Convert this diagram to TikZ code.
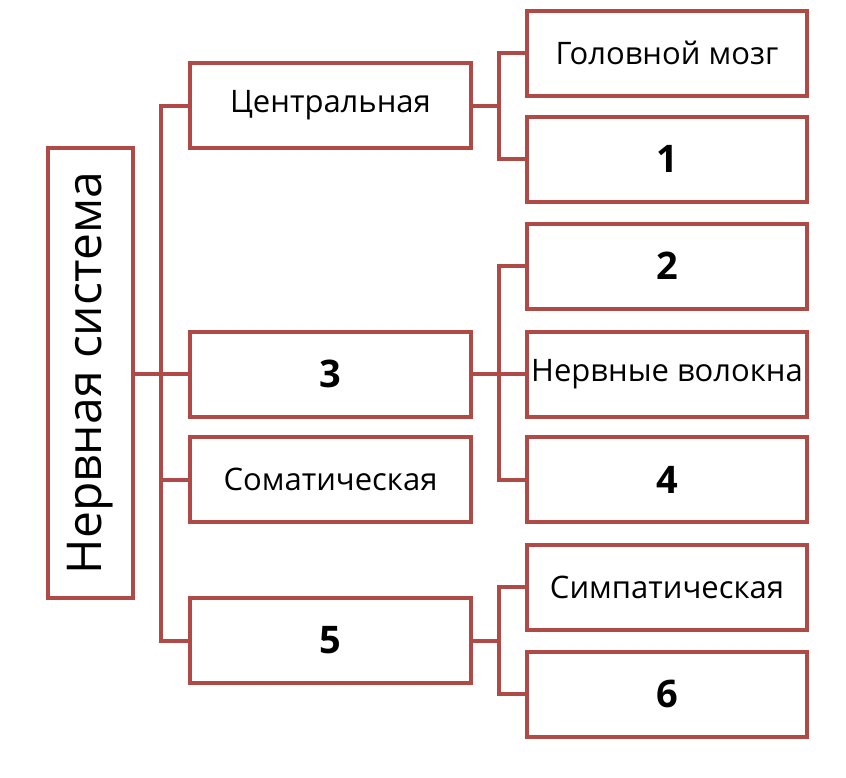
\documentclass[tikz,border=0pt]{standalone}
\usepackage{fontspec}
\setmainfont{Open Sans}
\definecolor{frame}{HTML}{B04A46}
\begin{document}
\begin{tikzpicture}[x=1pt,y=-1pt,
  box/.style={draw=frame,line width=4pt,fill=white,inner sep=0pt,outer sep=0pt,
    minimum width=#1,minimum height=85pt,anchor=center},
  box/.default=280pt,
  mbox/.style={box=281pt},
  txt/.style={font=\fontsize{31}{36}\selectfont},
  num/.style={font=\fontsize{38}{44}\selectfont\bfseries},
  link/.style={draw=frame,line width=4pt,line cap=rect}]
\useasboundingbox (0,0) rectangle (846,777);
% left
\node[draw=frame,line width=4pt,inner sep=0pt,outer sep=0pt,minimum width=450pt,minimum height=85pt,
  rotate=90,font=\fontsize{48}{54}\selectfont] (ns) at (90.5,373) {Нервная система};
% middle
\node[mbox,txt] (c) at (330.5,105.5) {Центральная};
\node[mbox,num] (n3) at (330.5,374) {3};
\node[mbox,txt] (s) at (330.5,479.5) {Соматическая};
\node[mbox,num] (n5) at (330.5,640.5) {5};
% right
\node[box,txt] (g) at (667,53) {Головной мозг};
\node[box,num] (n1) at (667,159) {1};
\node[box,num] (n2) at (667,266) {2};
\node[box,txt] (v) at (667,374) {Нервные волокна};
\node[box,num] (n4) at (667,479.5) {4};
\node[box,txt] (sp) at (667,587) {Симпатическая};
\node[box,num] (n6) at (667,694) {6};
% connectors
\coordinate (tx) at (161,0);
\coordinate (jx) at (499,0);
\draw[link] (ns.south |- n3.west) -- (n3.west);
\draw[link] (c.west) -- (c.west -| tx) -- (n5.west -| tx) -- (n5.west);
\draw[link] (s.west -| tx) -- (s.west);
\draw[link] (c.east) -- (c.east -| jx);
\draw[link] (g.west) -- (g.west -| jx) -- (n1.west -| jx) -- (n1.west);
\draw[link] (n3.east) -- (v.west);
\draw[link] (n2.west) -- (n2.west -| jx) -- (n4.west -| jx) -- (n4.west);
\draw[link] (n5.east) -- (n5.east -| jx);
\draw[link] (sp.west) -- (sp.west -| jx) -- (n6.west -| jx) -- (n6.west);
\end{tikzpicture}
\end{document}
